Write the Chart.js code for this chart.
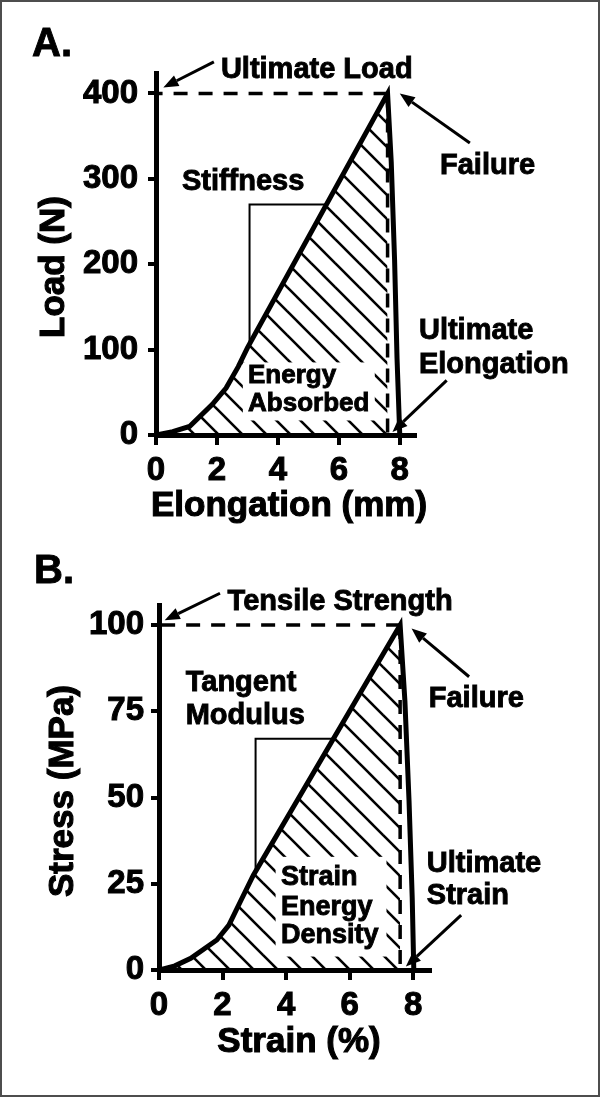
<!DOCTYPE html>
<html>
<head>
<meta charset="utf-8">
<script src="https://cdn.jsdelivr.net/npm/chart.js@4.4.1/dist/chart.umd.min.js"></script>
<style>
  body { margin: 0; background: #fff; }
  #page { position: relative; width: 600px; height: 1097px; overflow: hidden; background: #fff; }
  #page canvas { position: absolute; left: 0; }
  #chartA { top: 0; }
  #chartB { top: 548px; }
  #frame { position: absolute; left: 0; top: 0; right: 0; bottom: 0; border: 2px solid #4d4d4d; pointer-events: none; }
</style>
</head>
<body>
<div id="page">
  <canvas id="chartA" width="600" height="548"></canvas>
  <canvas id="chartB" width="600" height="549"></canvas>
  <div id="frame"></div>
</div>
<script>
// Panel A - load vs elongation
const elongation = [0, 0.55, 1.1, 1.85, 2.3, 2.7, 3.0, 7.6, 7.72, 7.83, 7.91, 8.0];
const load = [0, 4, 10, 36, 55, 80, 102, 400, 320, 205, 90, 0];
const elongationTicks = [0, 2, 4, 6, 8];
const loadTicks = [0, 100, 200, 300, 400];
const stiffnessX = [3.07, 3.07, 5.58];
const stiffnessY = [106, 270, 270];

// Panel B - stress vs strain
const strain = [0, 0.5, 1.0, 1.82, 2.2, 2.57, 2.97, 7.59, 7.74, 7.87, 7.97, 8.02];
const stress = [0, 1.2, 3.4, 8.7, 13, 20, 27.5, 100, 78, 49, 21, 0];
const strainTicks = [0, 2, 4, 6, 8];
const stressTicks = [0, 25, 50, 75, 100];
const tangentX = [3.04, 3.04, 5.5];
const tangentY = [28.6, 67, 67];

const FONT = '"Liberation Sans", Arial, Helvetica, sans-serif';

function hatchPattern() {
    const s = 24;
    const c = document.createElement("canvas");
    c.width = s;
    c.height = s;
    const g = c.getContext("2d");
    g.strokeStyle = "#000";
    g.lineWidth = 2.6;
    g.lineCap = "square";
    for (let k = -1; k <= 1; k++) {
        g.beginPath();
        g.moveTo(k * s, 0);
        g.lineTo(k * s + s, s);
        g.stroke();
    }
    return g.createPattern(c, "repeat");
}

function arrow(ctx, x1, y1, x2, y2) {
    const a = Math.atan2(y2 - y1, x2 - x1);
    const len = 15, half = 6;
    const bx = x2 - len * Math.cos(a);
    const by = y2 - len * Math.sin(a);
    ctx.lineWidth = 3;
    ctx.beginPath();
    ctx.moveTo(x1, y1);
    ctx.lineTo(bx, by);
    ctx.stroke();
    ctx.beginPath();
    ctx.moveTo(x2, y2);
    ctx.lineTo(bx + half * Math.sin(a), by - half * Math.cos(a));
    ctx.lineTo(bx - half * Math.sin(a), by + half * Math.cos(a));
    ctx.closePath();
    ctx.fill();
}

// bold text with a thin outline so it looks as heavy as the original
function heavyText(ctx, text, x, y, w = 0.9) {
    ctx.lineWidth = w;
    ctx.strokeText(text, x, y);
    ctx.fillText(text, x, y);
}

// axis titles, labels, arrows and the white box over the hatching
const annotations = (p) => ({
    id: "annotations",
    afterDatasetDraw(chart, args) {
        if (args.index !== 1) return; // right after the hatched area
        const { x, y } = chart.scales;
        const ctx = chart.ctx;
        const b = p.clear;
        const l = x.getPixelForValue(b.x0), r = x.getPixelForValue(b.x1);
        const t = y.getPixelForValue(b.y1), btm = y.getPixelForValue(b.y0);
        ctx.save();
        ctx.fillStyle = "#fff";
        ctx.fillRect(l, t, r - l, btm - t);
        ctx.fillStyle = "#000";
        ctx.strokeStyle = "#000";
        ctx.font = `bold ${b.size}px ${FONT}`;
        ctx.textBaseline = "middle";
        b.lines.forEach(([text, vx, vy]) => {
            heavyText(ctx, text, x.getPixelForValue(vx), y.getPixelForValue(vy));
        });
        ctx.restore();
    },
    afterDraw(chart) {
        const { x, y } = chart.scales;
        const ctx = chart.ctx;
        ctx.save();
        ctx.fillStyle = "#000";
        ctx.strokeStyle = "#000";
        ctx.textBaseline = "middle";
        ctx.font = `bold 40px ${FONT}`;
        heavyText(ctx, p.letter, p.letterAt[0], p.letterAt[1]);

        // axis titles
        ctx.font = `bold 35px ${FONT}`;
        ctx.textAlign = "center";
        heavyText(ctx, p.xTitle, p.xTitleAt[0], p.xTitleAt[1], 1.1);
        ctx.save();
        ctx.translate(p.yTitleAt[0], p.yTitleAt[1]);
        ctx.rotate(-Math.PI / 2);
        heavyText(ctx, p.yTitle, 0, 0, 1.1);
        ctx.restore();

        ctx.textAlign = "left";
        ctx.font = `bold 29px ${FONT}`;
        p.labels.forEach(([text, vx, vy]) => {
            heavyText(ctx, text, x.getPixelForValue(vx), y.getPixelForValue(vy));
        });
        p.arrows.forEach(([x1, y1, x2, y2]) => {
            arrow(ctx, x.getPixelForValue(x1), y.getPixelForValue(y1),
                x.getPixelForValue(x2), y.getPixelForValue(y2));
        });
        ctx.restore();
    },
});

function buildChart(id, p) {
    const peak = p.ys.indexOf(Math.max(...p.ys));
    const pts = p.xs.map((v, i) => ({ x: v, y: p.ys[i] }));
    const line = (data, extra) => Object.assign({
        data, borderColor: "#000", pointRadius: 0, fill: false, tension: 0,
    }, extra);
    const tickFont = { family: FONT, size: 33, weight: "bold" };

    return new Chart(document.getElementById(id), {
        type: "line",
        data: {
            datasets: [
                line(pts, { borderWidth: 5, order: 0 }),
                line(pts.slice(0, peak + 1), {
                    borderWidth: 0, borderColor: "rgba(0,0,0,0)",
                    backgroundColor: hatchPattern(), fill: "origin", order: 9,
                }),
                line([pts[peak], { x: 0, y: p.ys[peak] }], { borderWidth: 3.5, borderDash: [14, 11], order: 2 }),
                line([pts[peak], { x: p.xs[peak], y: 0 }], { borderWidth: 3.5, borderDash: [14, 11], order: 2 }),
                line(p.bracketX.map((v, i) => ({ x: v, y: p.bracketY[i] })), { borderWidth: 2, order: 3 }),
            ],
        },
        options: {
            responsive: false,
            animation: false,
            devicePixelRatio: 1,
            events: [],
            layout: { padding: { left: 0, top: p.top, right: 600 - p.right, bottom: 0 } },
            plugins: { legend: { display: false }, tooltip: { enabled: false } },
            scales: {
                x: {
                    type: "linear",
                    min: 0,
                    max: p.xMax,
                    afterBuildTicks: (s) => { s.ticks = p.xTicks.map((v) => ({ value: v })); },
                    afterFit: (s) => { s.height = p.xAxisHeight; s.paddingLeft = 0; s.paddingRight = 0; },
                    ticks: {
                        color: "#000", font: tickFont, padding: 6, maxRotation: 0, autoSkip: false,
                        textStrokeColor: "#000", textStrokeWidth: 1,
                    },
                    grid: { drawOnChartArea: false, color: "#000", lineWidth: 4, tickColor: "#000", tickLength: 10, tickWidth: 4 },
                    border: { color: "#000", width: 5 },
                },
                y: {
                    type: "linear",
                    min: 0,
                    max: p.yMax,
                    afterBuildTicks: (s) => { s.ticks = p.yTicks.map((v) => ({ value: v })); },
                    afterFit: (s) => { s.width = p.left; s.paddingTop = 0; s.paddingBottom = 0; },
                    ticks: {
                        color: "#000", font: tickFont, padding: p.yTickPad, autoSkip: false,
                        textStrokeColor: "#000", textStrokeWidth: 1,
                    },
                    grid: { drawOnChartArea: false, color: "#000", lineWidth: 4, tickColor: "#000", tickLength: 8, tickWidth: 4 },
                    border: { color: "#000", width: 5 },
                },
            },
        },
        plugins: [annotations(p)],
    });
}

buildChart("chartA", {
    xs: elongation, ys: load, xTicks: elongationTicks, yTicks: loadTicks,
    bracketX: stiffnessX, bracketY: stiffnessY,
    xTitle: "Elongation (mm)", yTitle: "Load (N)",
    xTitleAt: [289, 506], yTitleAt: [54, 267],
    left: 156, right: 415, top: 73, xAxisHeight: 113, xMax: 8.5, yMax: 424,
    yTickPad: 10,
    letter: "A.", letterAt: [32, 45],
    labels: [
        ["Ultimate Load", 2.13, 427],
        ["Failure", 9.32, 315],
        ["Stiffness", 0.85, 296],
        ["Ultimate", 8.63, 122],
        ["Elongation", 8.63, 82],
    ],
    arrows: [
        [1.9, 437, 0.24, 407],
        [10.3, 342, 8.0, 400],
        [9.54, 64, 7.76, 3.5],
    ],
    clear: { x0: 2.85, x1: 7.18, y0: 17, y1: 85, size: 26, lines: [["Energy", 3.02, 69], ["Absorbed", 3.02, 37]] },
});

buildChart("chartB", {
    xs: strain, ys: stress, xTicks: strainTicks, yTicks: stressTicks,
    bracketX: tangentX, bracketY: tangentY,
    xTitle: "Strain (%)", yTitle: "Stress (MPa)",
    xTitleAt: [299, 494], yTitleAt: [63, 243],
    left: 159, right: 430, top: 57, xAxisHeight: 127, xMax: 8.53, yMax: 105.8,
    yTickPad: 7,
    letter: "B.", letterAt: [34, 24],
    labels: [
        ["Tensile Strength", 2.16, 106.7],
        ["Failure", 8.49, 78.6],
        ["Tangent", 0.84, 83.2],
        ["Modulus", 0.84, 73.6],
        ["Ultimate", 8.43, 30.7],
        ["Strain", 8.43, 21.4],
    ],
    arrows: [
        [1.92, 109.2, 0.18, 101.4],
        [9.76, 85, 7.95, 99],
        [9.51, 15.9, 7.77, 1],
    ],
    clear: { x0: 3.67, x1: 7.16, y0: 3.9, y1: 32.8, size: 27, lines: [["Strain", 3.84, 26.8], ["Energy", 3.84, 18.1], ["Density", 3.84, 9.9]] },
});
</script>
</body>
</html>
